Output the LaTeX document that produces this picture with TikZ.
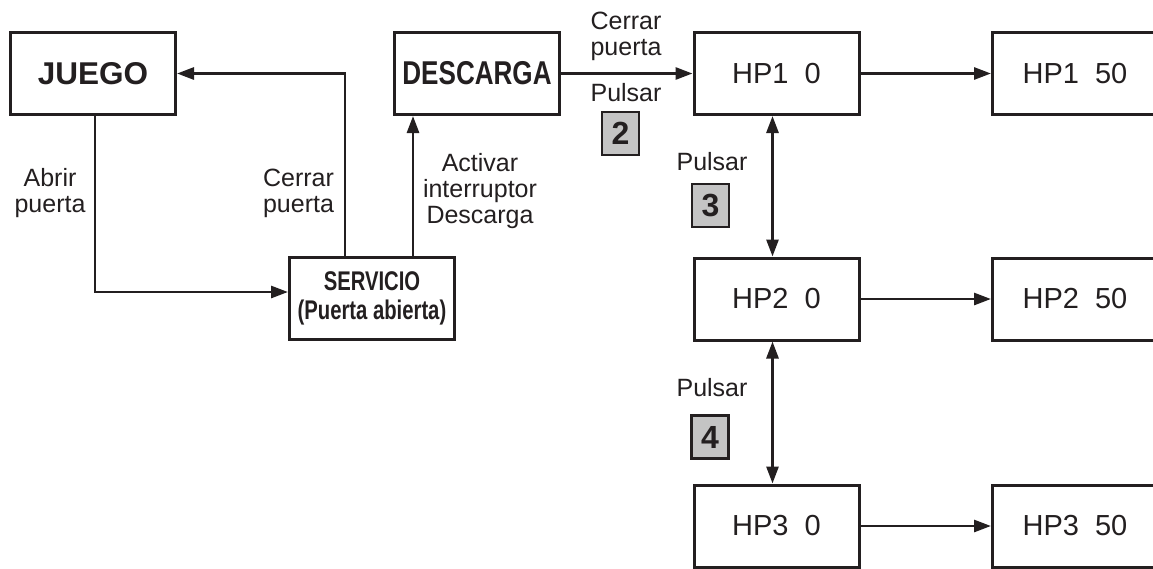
\documentclass[tikz,border=0pt]{standalone}
\usepackage{fontspec}
\setmainfont{Liberation Sans}
\newfontface\condA{Liberation Sans Bold}[FakeStretch=0.79]
\newfontface\condB{Liberation Sans Bold}[FakeStretch=0.75]
\usetikzlibrary{arrows.meta}
\definecolor{ink}{HTML}{231F20}
\definecolor{keygrey}{HTML}{C4C4C4}
\begin{document}
\begin{tikzpicture}[x=1pt,y=-1pt,
  box/.style={draw=ink, line width=3pt, minimum width=165pt, minimum height=82pt, inner sep=0pt, text=ink},
  lbl/.style={text=ink, font=\fontsize{25}{26}\selectfont, align=center, inner sep=0pt},
  hpt/.style={box, font=\fontsize{29}{34}\selectfont},
  key/.style={draw=ink, fill=keygrey, line width=2.5pt, minimum width=37pt, minimum height=43pt, inner sep=0pt, text=ink, font=\bfseries\fontsize{32}{36}\selectfont},
  arr/.style={draw=ink, line width=2.8pt, -{Triangle[length=17pt,width=12pt]}},
  darr/.style={draw=ink, line width=2.8pt, {Triangle[length=17pt,width=12pt]}-{Triangle[length=17pt,width=12pt]}}]
\clip (0,0) rectangle (1153,568);
\fill[white] (0,0) rectangle (1153,568);

% boxes
\node[box, font=\bfseries\fontsize{31.5}{36}\selectfont] (juego) at (93,73.5) {JUEGO};
\node[box, font=\condA\fontsize{33}{38}\selectfont] (desc) at (477,73.5) {DESCARGA};
\node[box, align=center, font=\condB\fontsize{27}{29}\selectfont] (serv) at (372,298.5) {SERVICIO\\(Puerta abierta)};
\node[hpt] (hp1) at (776.5,73.5) {HP1\ \ 0};
\node[hpt] (hp150) at (1075,73.5) {HP1\ \ 50};
\node[hpt] (hp2) at (776.5,299) {HP2\ \ 0};
\node[hpt] (hp250) at (1075,299) {HP2\ \ 50};
\node[hpt] (hp3) at (776.5,526) {HP3\ \ 0};
\node[hpt] (hp350) at (1075,526) {HP3\ \ 50};

% labels
\node[lbl] (lab1) at (50,193) {Abrir\\puerta};
\node[lbl] (lab2) at (298.5,193) {Cerrar\\puerta};
\node[lbl] (lab3) at (480,191) {Activar\\interruptor\\Descarga};
\node[lbl] (lab4) at (626,36) {Cerrar\\puerta};
\node[lbl] (p1) at (626,93) {Pulsar};
\node[key] (k2) at (620.5,133.5) {2};
\node[lbl] (p2) at (712,162) {Pulsar};
\node[key] (k3) at (710.5,205.5) {3};
\node[lbl] (p3) at (712,388) {Pulsar};
\node[key] (k4) at (710,437) {4};

% connectors
\draw[arr] ([xshift=-27pt]serv.north) |- (juego.east);
\draw[arr] ([xshift=2pt]juego.south) |- ([yshift=6.5pt]serv.west);
\draw[arr] ([xshift=41pt]serv.north) -- ([xshift=41pt]serv.north |- desc.south);
\draw[arr] (desc.east) -- (hp1.west);
\draw[arr] (hp1.east) -- (hp150.west);
\draw[arr] (hp2.east) -- (hp250.west);
\draw[arr] (hp3.east) -- (hp350.west);
\draw[darr] ([xshift=-4pt]hp1.south) -- ([xshift=-4pt]hp2.north);
\draw[darr] ([xshift=-4pt]hp2.south) -- ([xshift=-4pt]hp3.north);
\end{tikzpicture}
\end{document}
